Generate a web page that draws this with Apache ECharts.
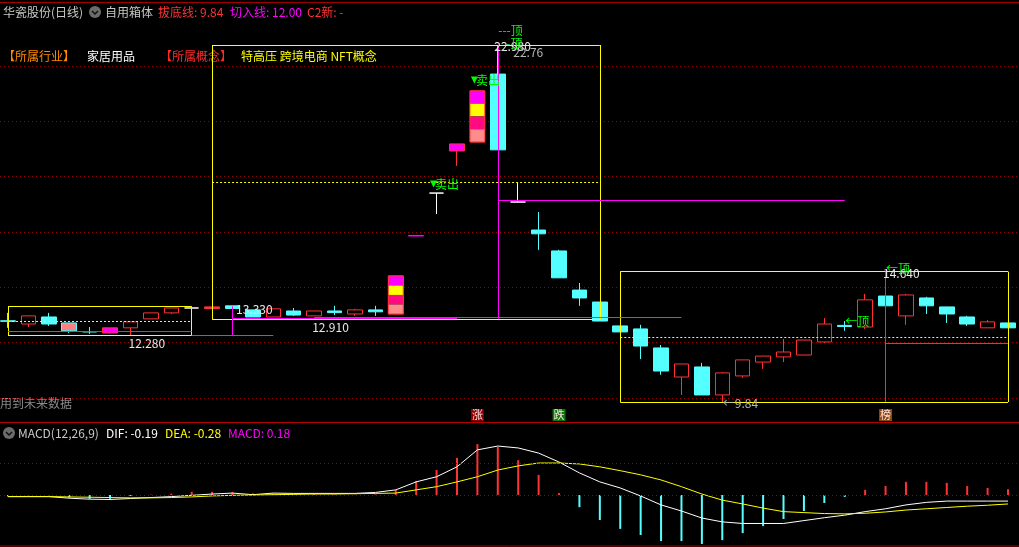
<!DOCTYPE html>
<html><head><meta charset="utf-8">
<script src="https://cdn.jsdelivr.net/npm/echarts@6/dist/echarts.min.js"></script>
<style>html,body{margin:0;padding:0;background:#000;}#c{width:1019px;height:547px;}</style>
</head><body><div id="c"></div>
<script>
// ---------- DATA ----------
const stockName = '华瓷股份(日线)';
const floorLine = 9.84;   // 拔底线
const entryLine = 12.00;  // 切入线
// daily candles: [open, close, low, high]
const ohlc = [
 [12.83,12.81,12.57,13.12],[12.71,13.01,12.60,13.01],[12.97,12.71,12.64,13.12],[12.75,12.46,12.38,12.75],
 [12.43,12.42,12.35,12.60],[12.38,12.57,12.35,12.57],[12.57,12.79,12.31,12.79],[12.90,13.12,12.90,13.12],
 [13.12,13.30,13.08,13.30],[13.30,13.30,13.30,13.30],[13.28,13.34,13.28,13.34],[13.38,13.28,13.28,13.38],
 [13.23,12.97,12.97,13.23],[12.97,13.27,12.97,13.27],[13.19,13.04,13.01,13.30],[13.01,13.19,13.01,13.19],
 [13.19,13.13,13.04,13.38],[13.08,13.23,13.01,13.27],[13.23,13.16,13.01,13.38],[13.08,14.48,13.08,14.48],
 [15.95,15.97,15.95,15.97],[17.53,17.53,16.76,17.53],[19.08,19.34,18.53,19.34],[19.41,21.29,19.41,21.29],
 [21.91,19.12,19.12,22.98],[17.20,17.20,17.20,17.90],[16.17,16.03,15.44,16.83],[15.40,14.41,14.41,15.44],
 [13.96,13.67,13.38,14.22],[13.52,12.82,12.82,13.52],[12.64,12.42,12.42,12.64],[12.53,11.90,11.42,12.68],
 [11.83,10.98,10.84,11.94],[10.76,11.24,10.10,11.24],[11.13,10.10,10.10,11.28],[10.10,10.91,9.84,10.94],
 [10.80,11.39,10.73,11.39],[11.31,11.53,11.06,11.53],[11.50,11.68,11.31,12.16],[11.57,12.12,11.57,12.12],
 [12.05,12.71,12.01,12.93],[12.66,12.62,12.46,12.82],[12.60,13.60,12.53,13.82],[13.74,13.38,13.38,14.64],
 [13.01,13.78,12.68,13.82],[13.67,13.38,13.08,13.71],[13.34,13.08,12.75,13.34],[12.97,12.71,12.64,13.01],
 [12.57,12.79,12.57,12.86],[12.75,12.57,12.57,12.75]
];
const macdBar = [-0.05,-0.01,-0.01,-0.08,-0.12,-0.12,-0.03,0.01,0.04,0.10,
 0.10,0.09,0.05,0.05,0.03,0.03,0.02,0.01,0.02,0.16,
 0.44,0.78,1.16,1.59,1.50,1.09,0.63,0.06,-0.38,-0.78,
 -1.06,-1.25,-1.44,-1.44,-1.53,-1.41,-1.19,-0.97,-0.75,-0.50,
 -0.25,-0.06,0.16,0.28,0.41,0.41,0.38,0.28,0.22,0.18];
const dif = [-0.05,-0.05,-0.05,-0.10,-0.13,-0.14,-0.11,-0.08,-0.05,-0.01,
 0.03,0.06,0.01,0.06,0.05,0.05,0.05,0.05,0.08,0.16,
 0.41,0.57,0.88,1.41,1.53,1.47,1.31,1.03,0.69,0.41,
 0.22,-0.03,-0.31,-0.50,-0.72,-0.84,-0.89,-0.89,-0.89,-0.80,
 -0.71,-0.63,-0.52,-0.43,-0.31,-0.23,-0.19,-0.19,-0.19,-0.19];
const dea = [-0.05,-0.05,-0.05,-0.06,-0.07,-0.08,-0.09,-0.09,-0.08,-0.06,
 -0.03,-0.01,0.00,0.01,0.02,0.03,0.03,0.04,0.05,0.06,
 0.16,0.26,0.41,0.57,0.78,0.91,1.00,1.00,0.97,0.88,
 0.76,0.63,0.47,0.26,0.03,-0.16,-0.28,-0.41,-0.52,-0.55,
 -0.58,-0.59,-0.57,-0.53,-0.47,-0.43,-0.39,-0.35,-0.32,-0.28];
// boxes: [fromIndex, toIndex, low, high]
const boxes = [[0,9,12.28,13.36],[10,29,12.89,22.98],[30,49,9.84,14.64]];
// horizontal segments: [fromIndex, toIndex, price, kind]
const hSegs = [[0,4,12.46,'red'],[4,9,12.46,'magenta'],[9,13,12.28,'red'],[11,22,12.92,'magenta'],
 [15,33,12.97,'red'],[24,41,17.28,'magenta'],[43,49,entryLine,'magenta']];
// vertical segments: [index, price1, price2, kind]
const vSegs = [[11,13.36,12.28,'magenta'],[24,22.98,12.91,'magenta'],[43,14.64,floorLine,'magenta']];
// price tags: [index, price, text]
const priceTags = [[7,12.28,'12.280'],[16,12.91,'12.910'],[11,13.33,'13.330'],[24,22.98,'22.980'],
 [24,22.76,'22.76'],[43,14.64,'14.640'],[35,9.84,'←9.84']];
// signal tags: [index, price, text]
const signalTags = [[24,23.50,'---顶'],[24,22.98,'-顶'],[41,12.79,'←顶'],[43,14.77,'←顶']];
const sellTags = [[23,21.69,'卖出'],[21,17.86,'卖出']];
const badges = [[23,9.36,'涨'],[27,9.36,'跌'],[43,9.36,'榜']];
const industry = '家居用品';
const concepts = '特高压 跨境电商 NFT概念';

// ---------- STYLE ----------
const FONT = '"Noto Sans CJK SC", "Noto Sans", sans-serif';
const UP = '#ff3232', DOWN = '#54ffff', MAG = '#ff00ff', YEL = '#ffff00', GRN = '#00ff00', GRIDC = '#9a0000';
const kindColor = {red: UP, magenta: MAG};
const categories = ohlc.map((d, i) => 'D' + (i + 1));
const special = {
  3: {fill:'#ff8080', border:DOWN}, 5: {fill:MAG, border:UP}, 9: {fill:'#ffffff', border:'#ffffff'},
  10: {fill:UP, border:UP}, 20: {fill:MAG, border:MAG}, 21: {fill:'#ffffff', border:'#ffffff'},
  22: {fill:MAG, border:UP}, 25: {fill:'#ffffff', border:'#ffffff'}
};
const multiIdx = [19, 23];
const tagLayout = {
  '12.280': {position:'bottom', distance:1, offset:[-4,0]},
  '12.910': {position:'bottom', distance:2, offset:[-4,0]},
  '13.330': {position:'right', distance:3, offset:[0,2]},
  '22.980': {position:'right', distance:0, offset:[-4,1]},
  '22.76': {position:'right', distance:15, offset:[0,1], color:'#b8b8b8'},
  '14.640': {position:'right', distance:-3, offset:[0,2]},
  '←9.84': {position:'right', distance:0, offset:[0,1], color:'#b8b8b8'}
};

const candleData = ohlc.map((v, i) => {
  const s = special[i];
  if (!s) return v;
  return {value: v, itemStyle: {color: s.fill, color0: s.fill, borderColor: s.border, borderColor0: s.border, borderColorDoji: s.border}};
});

const markLines = [];
function seg(x1, p1, x2, p2, style) {
  markLines.push([{coord:[categories[x1], p1], lineStyle:style}, {coord:[categories[x2], p2]}]);
}
boxes.forEach(([a, b, lo, hi]) => {
  const st = {color:YEL, type:'solid', width:1};
  seg(a, hi, b, hi, st); seg(a, lo, b, lo, st); seg(a, lo, a, hi, st); seg(b, lo, b, hi, st);
  seg(a, (lo + hi) / 2, b, (lo + hi) / 2, {color:YEL, type:[2,2], width:1});
});
hSegs.forEach(([a, b, p, k]) => seg(a, p, b, p, {color:kindColor[k], type:'solid', width:1}));
vSegs.forEach(([i, p1, p2, k]) => seg(i, p1, i, p2, {color:kindColor[k], type:'solid', width:1}));

const markPoints = [];
priceTags.forEach(([i, p, t]) => {
  const l = tagLayout[t];
  markPoints.push({coord:[categories[i], p], symbol:'circle', symbolSize:1, itemStyle:{color:'rgba(0,0,0,0)'},
    label:{show:true, formatter:t, position:l.position, distance:l.distance, offset:l.offset,
      color:l.color || '#e8e8e8', fontSize:12, fontFamily:FONT}});
});
signalTags.forEach(([i, p, t]) => markPoints.push({coord:[categories[i], p], symbol:'circle', symbolSize:1,
  itemStyle:{color:'rgba(0,0,0,0)'},
  label:{show:true, formatter:t, position:'right', distance:(t === '-顶' ? 8 : 0), offset:[0, t === '-顶' ? -2 : 0],
    color:GRN, fontSize:12, fontFamily:FONT}}));
sellTags.forEach(([i, p, t]) => markPoints.push({coord:[categories[i], p], symbol:'triangle', symbolSize:7,
  symbolRotate:180, symbolOffset:[-3,0], itemStyle:{color:GRN},
  label:{show:true, formatter:t, position:'right', distance:-2, color:GRN, fontSize:12, fontFamily:FONT}}));
badges.forEach(([i, p, t]) => markPoints.push({coord:[categories[i], p], symbol:'circle', symbolSize:1,
  itemStyle:{color:'rgba(0,0,0,0)'},
  label:{show:true, formatter:t, position:'inside', color:'#ffdede', fontSize:11, fontFamily:FONT,
    backgroundColor: t === '涨' ? '#8e0000' : (t === '跌' ? '#0a7a0a' : '#8a4a10'), padding:[1,1,0,1]}}));

function txt(x, y, text, fill, size) {
  return {type:'text', x:x, y:y, silent:true,
    style:{text:text, fill:fill, font:(size || 12) + 'px ' + FONT, verticalAlign:'middle'}};
}
function icon(cx, cy) {
  return [{type:'circle', shape:{cx:cx, cy:cy, r:6}, style:{fill:'#6c6c6c'}, silent:true},
    {type:'polyline', shape:{points:[[cx-3,cy-1],[cx,cy+2],[cx+3,cy-1]]}, style:{stroke:'#111', lineWidth:1.5, fill:null}, silent:true}];
}
function hline(x1, x2, y, c) {
  return {type:'line', shape:{x1:x1, y1:y, x2:x2, y2:y}, style:{stroke:c, lineWidth:1}, silent:true};
}
const last = ohlc.length - 1;

const option = {
  backgroundColor:'#000',
  animation:false,
  textStyle:{fontFamily:FONT},
  grid:[
    {left:8, right:11, top:17.28, height:407.55},
    {left:8, right:11, top:431, height:115.2},
    {left:0, right:0, top:66, height:332},
    {left:0, right:0, top:431, height:115.2}
  ],
  xAxis:[
    {type:'category', gridIndex:0, data:categories, boundaryGap:false, show:false},
    {type:'category', gridIndex:1, data:categories, boundaryGap:false, show:false},
    {type:'value', gridIndex:2, min:0, max:1, show:false},
    {type:'value', gridIndex:3, min:0, max:1, show:false}
  ],
  yAxis:[
    {type:'value', gridIndex:0, min:9, max:24, show:false},
    {type:'value', gridIndex:1, min:-1.6, max:2.0, show:false},
    {type:'value', gridIndex:2, min:0, max:6, interval:1, axisLine:{show:false}, axisTick:{show:false},
     axisLabel:{show:false}, splitLine:{show:true, lineStyle:{color:GRIDC, type:[1,3], width:1}}},
    {type:'value', gridIndex:3, min:-1.6, max:2.0, show:false}
  ],
  series:[
    {type:'candlestick', xAxisIndex:0, yAxisIndex:0, barWidth:15, clip:false, data:candleData,
     itemStyle:{color:'#000', color0:DOWN, borderColor:UP, borderColor0:DOWN, borderColorDoji:'#ffffff', borderWidth:1},
     markLine:{silent:true, symbol:['none','none'], label:{show:false}, data:markLines},
     markPoint:{silent:true, data:markPoints}
    },
    {type:'custom', xAxisIndex:0, yAxisIndex:0, clip:false, z:3,
     data: multiIdx.map(i => [i, ohlc[i][0], ohlc[i][1]]),
     encode:{x:0, y:[1,2]},
     renderItem: function (params, api) {
       const i = api.value(0);
       const lo = api.coord([i, api.value(1)]);
       const hi = api.coord([i, api.value(2)]);
       const w = 15, left = lo[0] - w / 2, h = lo[1] - hi[1];
       const cols = [MAG, YEL, '#ff0a80', '#ff8c8c'];
       const ch = cols.map((c, k) => ({type:'rect', shape:{x:left, y:hi[1] + h * k / 4, width:w, height:h / 4}, style:{fill:c}}));
       ch.push({type:'rect', shape:{x:left, y:hi[1], width:w, height:h}, style:{fill:null, stroke:UP, lineWidth:1}});
       return {type:'group', children:ch};
     }
    },
    {type:'bar', xAxisIndex:1, yAxisIndex:1, barWidth:2,
     data: macdBar.map(v => ({value:v, itemStyle:{color: v >= 0 ? UP : DOWN}}))},
    {type:'line', xAxisIndex:1, yAxisIndex:1, data:dif, symbol:'none', lineStyle:{color:'#ffffff', width:1}, z:4},
    {type:'line', xAxisIndex:1, yAxisIndex:1, data:dea, symbol:'none', lineStyle:{color:YEL, width:1}, z:4},
    {type:'line', xAxisIndex:3, yAxisIndex:3, data:[[0,0],[1,0]], symbol:'none', lineStyle:{width:0, opacity:0}, z:1,
     markLine:{silent:true, symbol:['none','none'], label:{show:false},
       lineStyle:{color:GRIDC, type:[1,3], width:1}, data:[{yAxis:0},{yAxis:1}]}}
  ],
  graphic:[
    hline(0, 1019, 2.5, '#a00000'),
    txt(3, 12, stockName, '#c8c8c8'),
    ...icon(95, 12),
    txt(105, 12, '自用箱体', '#c8c8c8'),
    txt(158, 12, '拔底线: ' + floorLine.toFixed(2), UP),
    txt(230, 12, '切入线: ' + entryLine.toFixed(2), MAG),
    txt(307, 12, 'C2新: -', UP),
    txt(3, 56, '【所属行业】', '#ff8a00'),
    txt(87, 56, industry, '#ffffff'),
    txt(160, 56, '【所属概念】', '#ff2a2a'),
    txt(241, 56, concepts, YEL),
    txt(0, 403, '用到未来数据', '#8a8a8a'),
    hline(0, 1019, 422.5, '#b00000'),
    ...icon(9, 433),
    txt(18, 433, 'MACD(12,26,9)', '#c8c8c8'),
    txt(106, 433, 'DIF: ' + dif[last].toFixed(2), '#ffffff'),
    txt(165, 433, 'DEA: ' + dea[last].toFixed(2), YEL),
    txt(228, 433, 'MACD: ' + macdBar[last].toFixed(2), MAG),
    hline(0, 1019, 546, '#b00000')
  ]
};
const chart = echarts.init(document.getElementById('c'));
chart.setOption(option);
</script>
</body></html>
